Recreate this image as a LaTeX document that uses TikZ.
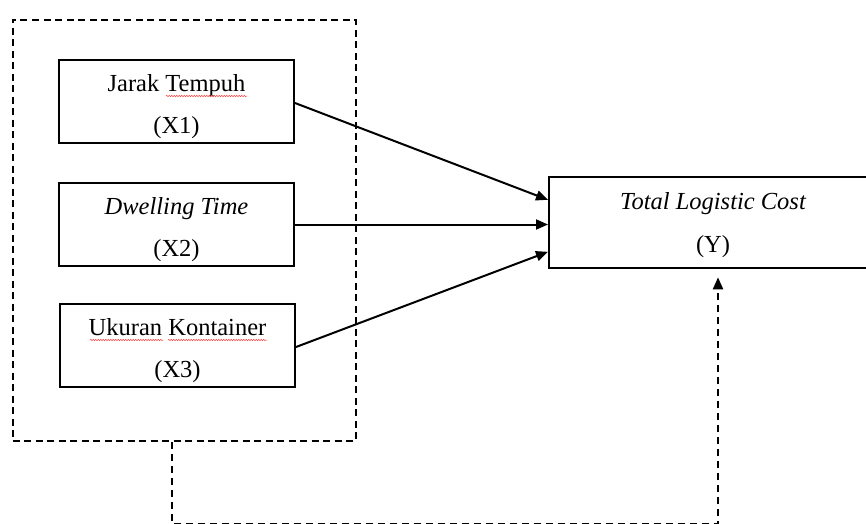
\documentclass[tikz,border=0pt]{standalone}
\usepackage{fontspec}
\setmainfont{Liberation Serif}
\usetikzlibrary{arrows.meta,decorations.pathmorphing}
\begin{document}
\begin{tikzpicture}[x=1pt,y=-1pt,
  box/.style={draw=black,line width=2pt,inner sep=0pt,minimum width=235pt,minimum height=83pt},
  grpbox/.style={draw=black,line width=2pt,dash pattern=on 7pt off 4.5pt,inner sep=0pt},
  lbl/.style={anchor=base,inner sep=0pt,font=\fontsize{24.5}{29}\selectfont},
  conn/.style={line width=2pt,-{Triangle[length=12pt,width=10pt]}},
  dconn/.style={line width=2.2pt,dash pattern=on 7pt off 5pt,-{Triangle[length=12pt,width=10pt]}},
  spell/.style={draw=red!70,line width=0.5pt,decorate,decoration={snake,amplitude=0.8pt,segment length=2.5pt}}]
\useasboundingbox (0,0) rectangle (866,523);
\fill[white] (0,0) rectangle (866,523);
% group
\node[grpbox,minimum width=343pt,minimum height=421.5pt] (grp) at (184,230.25) {};
% independent variables
\node[box] (x1) at (176.5,101.5) {};
\node[lbl] (x1a) at (176.5,91) {Jarak Tempuh};
\node[lbl] (x1b) at (176.5,133) {(X1)};
\node[box] (x2) at (176.5,224.5) {};
\node[lbl] (x2a) at (176.5,214) {\itshape Dwelling Time};
\node[lbl] (x2b) at (176.5,256) {(X2)};
\node[box] (x3) at (177.5,345.5) {};
\node[lbl] (x3a) at (177.5,335) {Ukuran Kontainer};
\node[lbl] (x3b) at (177.5,377) {(X3)};
% dependent
\node[box,minimum width=328pt,minimum height=91pt] (yv) at (713,222.8) {};
\node[lbl] (ya) at (713,209) {\itshape Total Logistic Cost};
\node[lbl] (yb) at (713,252) {(Y)};
% spell-check marks
\draw[spell] (166,96) -- (247,96);
\draw[spell] (90,340) -- (163,340);
\draw[spell] (168,340) -- (267,340);
% connectors
\draw[conn] ([yshift=-1.5pt]x1.east) -- ([yshift=23pt]yv.west);
\draw[conn] (x2.east) -- (x2.east -| yv.west);
\draw[conn] ([yshift=-1.5pt]x3.east) -- ([yshift=-29pt]yv.west);
\coordinate (bot) at (172,524.2);
\draw[dconn] ([xshift=-12pt]grp.south) -- (bot) -| ([xshift=5pt,yshift=-8pt]yv.south);
\end{tikzpicture}
\end{document}
